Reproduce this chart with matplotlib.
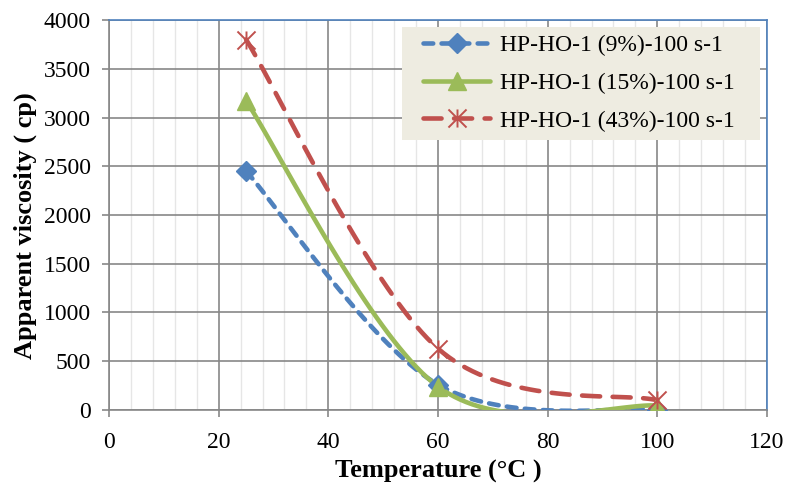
import matplotlib
matplotlib.use("Agg")
import matplotlib.pyplot as plt
import numpy as np
from matplotlib.path import Path
from matplotlib.patches import Rectangle
from matplotlib.ticker import MultipleLocator

# ── Data ──────────────────────────────────────────────────────────────────
temps = [25, 60, 100]
visc_9 = [2450, 260, 0]
visc_15 = [3170, 240, 45]
visc_43 = [3800, 630, 100]
labels = ["HP-HO-1 (9%)-100 s-1", "HP-HO-1 (15%)-100 s-1", "HP-HO-1 (43%)-100 s-1"]

# ── Palette ───────────────────────────────────────────────────────────────
BLUE = "#4F81BD"
GREEN = "#9BBB59"
RED = "#C0504D"
GRID_MAJ = "#878787"
GRID_MIN = "#E6E6E6"
LEGEND_BG = "#EEECE1"

plt.rcParams["font.family"] = ["Liberation Serif", "DejaVu Serif"]
plt.rcParams["lines.scale_dashes"] = False


def smooth(x, y, n=40):
    """Excel-like smoothed line: cubic Bezier segments, Catmull-Rom controls."""
    p = np.column_stack([x, y]).astype(float)
    out = [p[:1]]
    t = np.linspace(0, 1, n)[1:, None]
    for i in range(len(p) - 1):
        p0 = p[i - 1] if i > 0 else p[i]
        p3 = p[i + 2] if i + 2 < len(p) else p[i + 1]
        c1 = p[i] + (p[i + 1] - p0) / 6
        c2 = p[i + 1] - (p3 - p[i]) / 6
        seg = ((1 - t) ** 3 * p[i] + 3 * (1 - t) ** 2 * t * c1
               + 3 * (1 - t) * t ** 2 * c2 + t ** 3 * p[i + 1])
        out.append(seg)
    s = np.vstack(out)
    return s[:, 0], s[:, 1]


star = Path([(-1, -1), (1, 1), (-1, 1), (1, -1), (0, -1), (0, 1)],
            [Path.MOVETO, Path.LINETO, Path.MOVETO, Path.LINETO, Path.MOVETO, Path.LINETO])

fig = plt.figure(figsize=(7.88, 4.86), dpi=100)
ax = fig.add_axes([0.1383, 0.1564, 0.8351, 0.8024])

series = [
    (visc_9, BLUE, dict(linestyle=(0, (7, 6))), dict(marker="D", markersize=10)),
    (visc_15, GREEN, dict(linestyle="-"), dict(marker="^", markersize=13)),
    (visc_43, RED, dict(linestyle=(0, (13, 9))), dict(marker=star, markersize=13,
                                                      markeredgewidth=1.4,
                                                      markerfacecolor="none")),
]

handles = []
for (vals, col, ls, mk), lab in zip(series, labels):
    sx, sy = smooth(temps, vals)
    ax.plot(sx, sy, color=col, linewidth=3.3, solid_capstyle="round",
            dash_capstyle="round", zorder=3, **ls)
    ax.plot(temps, vals, linestyle="none", color=col, markeredgecolor=col,
            zorder=4, **mk)
    h, = ax.plot([], [], color=col, linewidth=3.3, dash_capstyle="round",
                 solid_capstyle="round", markeredgecolor=col, **ls, **mk)
    handles.append(h)

ax.set_xlim(0, 120)
ax.set_ylim(0, 4000)
ax.xaxis.set_major_locator(MultipleLocator(20))
ax.xaxis.set_minor_locator(MultipleLocator(4))
ax.yaxis.set_major_locator(MultipleLocator(500))

ax.grid(True, which="major", color=GRID_MAJ, linewidth=1.2)
ax.grid(True, which="minor", axis="x", color=GRID_MIN, linewidth=1.0)
ax.set_axisbelow(True)

for side in ("left", "bottom"):
    ax.spines[side].set_color(GRID_MAJ)
    ax.spines[side].set_linewidth(1.2)
for side in ("top", "right"):
    ax.spines[side].set_color(BLUE)
    ax.spines[side].set_linewidth(1.2)

ax.tick_params(which="major", direction="out", length=5, width=1.2,
               color=GRID_MAJ, labelsize=17)
ax.tick_params(axis="x", pad=11)
ax.tick_params(axis="y", pad=8)
ax.tick_params(which="minor", length=0)

ax.set_xlabel("Temperature (°C )", fontsize=19, fontweight="bold", labelpad=5)
fig.text(0.032, 0.535, "Apparent viscosity ( cp)", rotation=90, fontsize=19,
         fontweight="bold", ha="center", va="center")

# legend: tan box drawn separately so its padding can follow the original
ax.add_patch(Rectangle((0.4453, 0.6923), 0.544, 0.2897, transform=ax.transAxes,
                       facecolor=LEGEND_BG, edgecolor="none", zorder=5))
leg = ax.legend(handles, labels, loc="upper left", bbox_to_anchor=(0.477, 0.962),
                fontsize=17, frameon=False, handlelength=2.85,
                borderpad=0, labelspacing=0.68, handletextpad=0.42,
                borderaxespad=0)
leg.set_zorder(6)

fig.savefig("out.png", dpi=100, facecolor="white")
